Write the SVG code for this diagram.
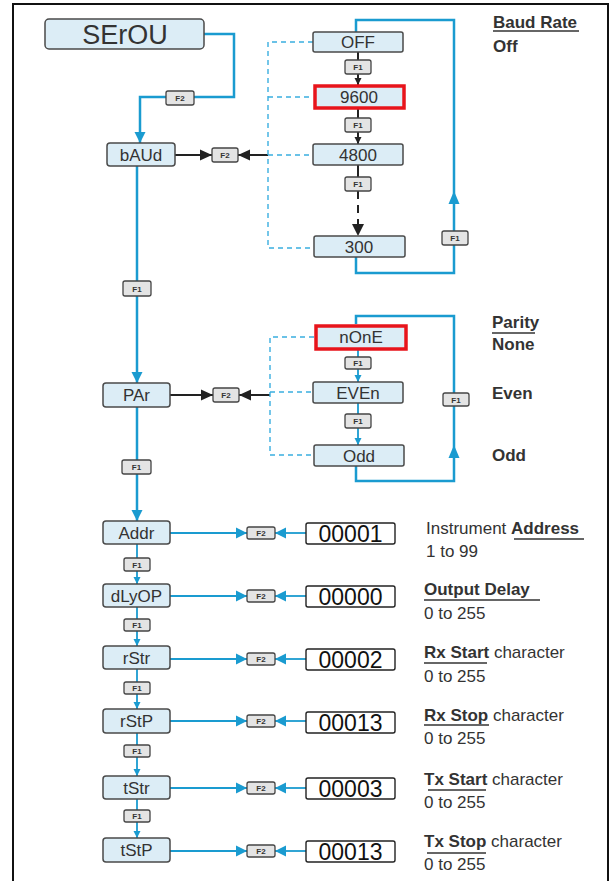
<svg xmlns="http://www.w3.org/2000/svg" width="611" height="881" viewBox="0 0 611 881">
<style>
.frame{fill:#fff;stroke:#111;stroke-width:2}
.node rect{fill:#dcedf6;stroke:#4a4a4a;stroke-width:1.5}
.node text{font-family:"Liberation Sans",Arial,sans-serif;font-size:17px;fill:#333;text-anchor:middle}
.sel rect{stroke:#e8141b;stroke-width:3.5}
.val rect{fill:#fff;stroke:#222;stroke-width:1.4}
.val text{font-family:"Liberation Sans",Arial,sans-serif;font-size:23px;fill:#111;text-anchor:middle}
.key rect{fill:#e4e4e4;stroke:#444;stroke-width:1.3}
.key text{font-family:"Liberation Sans",Arial,sans-serif;font-size:8px;font-weight:bold;fill:#333;text-anchor:middle}
.blue{fill:none;stroke:#1a9bd0;stroke-width:2.5}
.bthin{fill:none;stroke:#1a9bd0;stroke-width:1.8}
.blk{fill:none;stroke:#222;stroke-width:2}
.dash{fill:none;stroke:#3aaee0;stroke-width:1.4;stroke-dasharray:5,4}
.lbl{font-family:"Liberation Sans",Arial,sans-serif;font-size:17px;fill:#333}
.b{font-weight:bold}
.ul{stroke:#333;stroke-width:1.4}
</style>
<defs>
<marker id="ab" markerUnits="userSpaceOnUse" markerWidth="12" markerHeight="12" refX="11" refY="6" orient="auto"><path d="M0,0.5 L11,6 L0,11.5 z" fill="#1a9bd0"/></marker>
<marker id="as" markerUnits="userSpaceOnUse" markerWidth="8" markerHeight="8" refX="7" refY="4" orient="auto"><path d="M0,0.5 L7,4 L0,7.5 z" fill="#1a9bd0"/></marker>
<marker id="kb" markerUnits="userSpaceOnUse" markerWidth="13" markerHeight="12" refX="12" refY="6" orient="auto"><path d="M0,0.5 L12,6 L0,11.5 z" fill="#222"/></marker>
<marker id="ks" markerUnits="userSpaceOnUse" markerWidth="8" markerHeight="8" refX="7" refY="4" orient="auto"><path d="M0,0.5 L7,4 L0,7.5 z" fill="#222"/></marker>
</defs>
<rect class="frame" x="13" y="4" width="595" height="890"/>

<g id="connectors">
<path class="blue" d="M204,34 H234 V97 H140 V143" marker-end="url(#ab)"/>
<path class="blue" d="M137,166 V383" marker-end="url(#ab)"/>
<path class="blue" d="M137,407 V521" marker-end="url(#ab)"/>
<path class="blk" d="M175,155 H212" marker-end="url(#kb)"/>
<path class="blk" d="M268,155 H238" marker-end="url(#kb)"/>
<path class="dash" d="M313,42 H268 V248 H313 M268,97 H313 M268,155 H313"/>
<path class="blk" d="M358,52 V60 M358,74 V85" marker-end="url(#ks)"/>
<path class="blk" d="M358,109 V118 M358,132 V144" marker-end="url(#ks)"/>
<path class="blk" d="M358,165 V177"/>
<path class="blk" d="M358,191 V226" stroke-width="2.5" stroke-dasharray="8,6"/>
<polygon points="358,236 352,224 364,224" fill="#222"/>
<path class="blue" d="M356,257 V273 H454 V20 H356 V32"/>
<polygon points="454,191 448.5,204 459.5,204" fill="#1a9bd0"/>
<path class="blk" d="M170,395 H213" marker-end="url(#kb)"/>
<path class="blk" d="M270,395 H239" marker-end="url(#kb)"/>
<path class="dash" d="M314,337 H270 V455 H313 M270,392 H313"/>
<path class="bthin" d="M358,350 V357 M358,369 V382" marker-end="url(#as)"/>
<path class="bthin" d="M358,403 V414 M358,428 V445" marker-end="url(#as)"/>
<path class="blue" d="M356,466 V481 H454 V316 H356 V324"/>
<polygon points="454,445 448.5,458 459.5,458" fill="#1a9bd0"/>
<path class="bthin" d="M137,544 V584" marker-end="url(#as)"/>
<path class="bthin" d="M137,607 V646" marker-end="url(#as)"/>
<path class="bthin" d="M137,669 V709" marker-end="url(#as)"/>
<path class="bthin" d="M137,733 V776" marker-end="url(#as)"/>
<path class="bthin" d="M137,799 V838" marker-end="url(#as)"/>
<path class="bthin" d="M170,533 H247" marker-end="url(#ab)"/>
<path class="bthin" d="M306,533 H275" marker-end="url(#ab)"/>
<path class="bthin" d="M170,596 H247" marker-end="url(#ab)"/>
<path class="bthin" d="M306,596 H275" marker-end="url(#ab)"/>
<path class="bthin" d="M170,659 H247" marker-end="url(#ab)"/>
<path class="bthin" d="M306,659 H275" marker-end="url(#ab)"/>
<path class="bthin" d="M170,721 H247" marker-end="url(#ab)"/>
<path class="bthin" d="M306,721 H275" marker-end="url(#ab)"/>
<path class="bthin" d="M170,788 H247" marker-end="url(#ab)"/>
<path class="bthin" d="M306,788 H275" marker-end="url(#ab)"/>
<path class="bthin" d="M170,851 H247" marker-end="url(#ab)"/>
<path class="bthin" d="M306,851 H275" marker-end="url(#ab)"/>
</g>

<g id="keys">
<g class="key"><rect x="166" y="91" width="28" height="14" rx="2"/><text x="180" y="101">F2</text></g>
<g class="key"><rect x="212" y="148" width="26" height="14" rx="2"/><text x="225" y="158">F2</text></g>
<g class="key"><rect x="123" y="281" width="28" height="15" rx="2"/><text x="137" y="291.5">F1</text></g>
<g class="key"><rect x="345" y="60" width="26" height="14" rx="2"/><text x="358" y="70">F1</text></g>
<g class="key"><rect x="345" y="118" width="26" height="14" rx="2"/><text x="358" y="128">F1</text></g>
<g class="key"><rect x="345" y="177" width="26" height="14" rx="2"/><text x="358" y="187">F1</text></g>
<g class="key"><rect x="442" y="231" width="26" height="14" rx="2"/><text x="455" y="241">F1</text></g>
<g class="key"><rect x="213" y="388" width="26" height="14" rx="2"/><text x="226" y="398">F2</text></g>
<g class="key"><rect x="345" y="357" width="26" height="12" rx="2"/><text x="358" y="366">F1</text></g>
<g class="key"><rect x="345" y="414" width="26" height="14" rx="2"/><text x="358" y="424">F1</text></g>
<g class="key"><rect x="443" y="393" width="26" height="13" rx="2"/><text x="456" y="402.5">F1</text></g>
<g class="key"><rect x="122" y="460" width="29" height="14" rx="2"/><text x="136.5" y="470">F1</text></g>
<g class="key"><rect x="124" y="558" width="26" height="13" rx="2"/><text x="137" y="567.5">F1</text></g>
<g class="key"><rect x="124" y="619" width="26" height="12" rx="2"/><text x="137" y="628">F1</text></g>
<g class="key"><rect x="124" y="682" width="26" height="12" rx="2"/><text x="137" y="691">F1</text></g>
<g class="key"><rect x="124" y="745" width="26" height="12" rx="2"/><text x="137" y="754">F1</text></g>
<g class="key"><rect x="124" y="810" width="26" height="12" rx="2"/><text x="137" y="819">F1</text></g>
<g class="key"><rect x="247" y="527" width="28" height="12" rx="2"/><text x="261" y="536">F2</text></g>
<g class="key"><rect x="247" y="590" width="28" height="12" rx="2"/><text x="261" y="599">F2</text></g>
<g class="key"><rect x="247" y="653" width="28" height="12" rx="2"/><text x="261" y="662">F2</text></g>
<g class="key"><rect x="247" y="715" width="28" height="12" rx="2"/><text x="261" y="724">F2</text></g>
<g class="key"><rect x="247" y="782" width="28" height="12" rx="2"/><text x="261" y="791">F2</text></g>
<g class="key"><rect x="247" y="845" width="28" height="12" rx="2"/><text x="261" y="854">F2</text></g>
</g>

<g id="SErOU" class="node"><rect x="45" y="19" width="159" height="30" rx="4"/><text x="125" y="44" style="font-size:27px">SErOU</text></g>
<g id="bAUd" class="node"><rect x="107" y="143" width="68" height="23" rx="3"/><text x="141" y="161">bAUd</text></g>
<g id="OFF" class="node"><rect x="313" y="32" width="90" height="20" rx="2"/><text x="358" y="48">OFF</text></g>
<g id="b9600" class="node sel"><rect x="315" y="86" width="89" height="22"/><text x="359" y="103">9600</text></g>
<g id="b4800" class="node"><rect x="313" y="144" width="90" height="21" rx="2"/><text x="358" y="161">4800</text></g>
<g id="b300" class="node"><rect x="314" y="236" width="91" height="21" rx="2"/><text x="359" y="253">300</text></g>
<g id="PAr" class="node"><rect x="103" y="383" width="67" height="24" rx="3"/><text x="136.5" y="401">PAr</text></g>
<g id="nOnE" class="node sel"><rect x="316" y="326" width="90" height="23"/><text x="361" y="343">nOnE</text></g>
<g id="EVEn" class="node"><rect x="313" y="382" width="90" height="21" rx="2"/><text x="358" y="399">EVEn</text></g>
<g id="Odd" class="node"><rect x="314" y="445" width="90" height="21" rx="2"/><text x="359" y="462">Odd</text></g>
<g id="Addr" class="node"><rect x="103" y="521" width="67" height="23" rx="3"/><text x="136.5" y="539">Addr</text></g>
<g id="dLyOP" class="node"><rect x="103" y="584" width="67" height="23" rx="3"/><text x="136.5" y="602">dLyOP</text></g>
<g id="rStr" class="node"><rect x="103" y="646" width="67" height="23" rx="3"/><text x="136.5" y="664">rStr</text></g>
<g id="rStP" class="node"><rect x="103" y="709" width="67" height="24" rx="3"/><text x="136.5" y="727">rStP</text></g>
<g id="tStr" class="node"><rect x="103" y="776" width="67" height="23" rx="3"/><text x="136.5" y="794">tStr</text></g>
<g id="tStP" class="node"><rect x="103" y="838" width="67" height="24" rx="3"/><text x="136.5" y="856">tStP</text></g>

<g id="v00001" class="val"><rect x="306" y="523" width="89" height="21" rx="2"/><text x="350.5" y="542">00001</text></g>
<g id="v00000" class="val"><rect x="306" y="586" width="89" height="21" rx="2"/><text x="350.5" y="605">00000</text></g>
<g id="v00002" class="val"><rect x="306" y="649" width="89" height="21" rx="2"/><text x="350.5" y="668">00002</text></g>
<g id="v00013a" class="val"><rect x="306" y="712" width="89" height="21" rx="2"/><text x="350.5" y="731">00013</text></g>
<g id="v00003" class="val"><rect x="306" y="778" width="89" height="21" rx="2"/><text x="350.5" y="797">00003</text></g>
<g id="v00013b" class="val"><rect x="306" y="841" width="89" height="21" rx="2"/><text x="350.5" y="860">00013</text></g>

<g id="labels">
<text class="lbl b" x="493" y="28">Baud Rate</text>
<line class="ul" x1="493" y1="31" x2="579" y2="31"/>
<text class="lbl b" x="493" y="52">Off</text>
<text class="lbl b" x="492" y="328">Parity</text>
<line class="ul" x1="492" y1="333" x2="535" y2="333"/>
<text class="lbl b" x="492" y="350">None</text>
<text class="lbl b" x="492" y="399">Even</text>
<text class="lbl b" x="492" y="461">Odd</text>
<text class="lbl" x="426" y="534">Instrument <tspan class="b">Address</tspan></text>
<line class="ul" x1="514" y1="539" x2="584" y2="539"/>
<text class="lbl" x="426" y="557">1 to 99</text>
<text class="lbl b" x="424" y="595">Output Delay</text>
<line class="ul" x1="424" y1="600" x2="540" y2="600"/>
<text class="lbl" x="424" y="619">0 to 255</text>
<text class="lbl" x="424" y="658"><tspan class="b">Rx Start</tspan> character</text>
<line class="ul" x1="424" y1="663" x2="487" y2="663"/>
<text class="lbl" x="424" y="682">0 to 255</text>
<text class="lbl" x="424" y="721"><tspan class="b">Rx Stop</tspan> character</text>
<line class="ul" x1="424" y1="725" x2="489" y2="725"/>
<text class="lbl" x="424" y="744">0 to 255</text>
<text class="lbl" x="424" y="785"><tspan class="b">Tx Start</tspan> character</text>
<line class="ul" x1="428" y1="790" x2="486" y2="790"/>
<text class="lbl" x="424" y="808">0 to 255</text>
<text class="lbl" x="424" y="847"><tspan class="b">Tx Stop</tspan> character</text>
<line class="ul" x1="427" y1="853" x2="486" y2="853"/>
<text class="lbl" x="424" y="870">0 to 255</text>
</g>
</svg>
